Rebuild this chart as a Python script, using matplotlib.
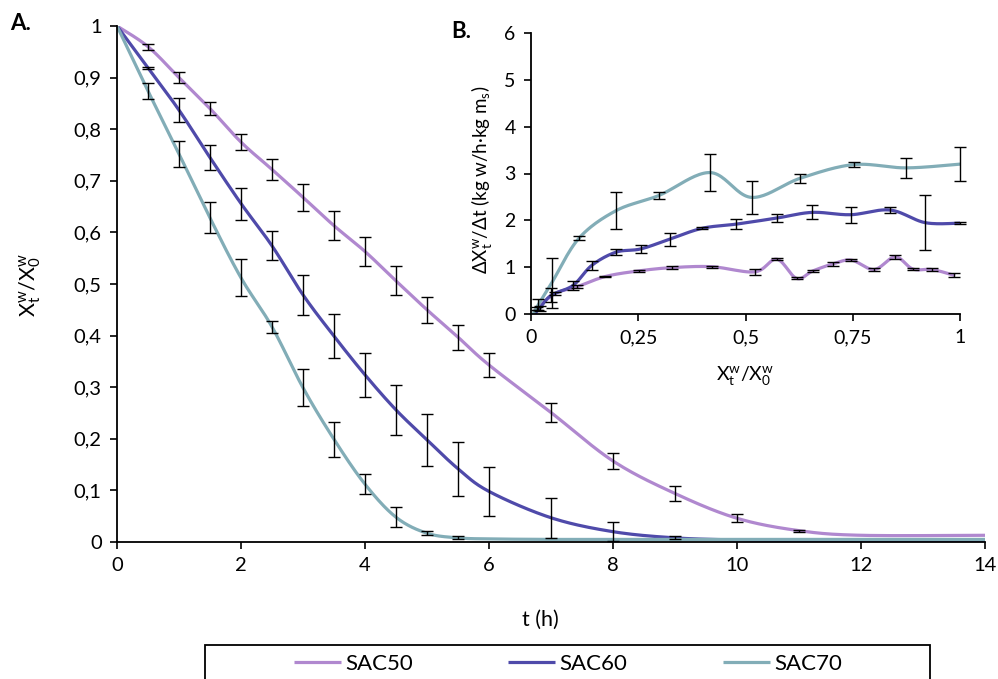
import numpy as np
import matplotlib
matplotlib.use("Agg")
import matplotlib.pyplot as plt
from matplotlib.patches import Rectangle

plt.rcParams['font.family'] = ['Lato', 'DejaVu Sans']
plt.rcParams['mathtext.default'] = 'regular'

# ---- main chart data (A) ----
t = [0, 0.5, 1, 1.5, 2, 2.5, 3, 3.5, 4, 4.5, 5, 5.5, 6, 7, 8, 9, 10, 11, 12, 14]
sac50 = [1, 0.96, 0.90, 0.84, 0.775, 0.722, 0.668, 0.613, 0.563, 0.506, 0.450,
         0.397, 0.343, 0.251, 0.157, 0.094, 0.046, 0.022, 0.013, 0.013]
sac50_err = [0, 0.006, 0.010, 0.013, 0.015, 0.020, 0.026, 0.028, 0.029, 0.028,
             0.025, 0.024, 0.023, 0.019, 0.016, 0.014, 0.008, 0.002, 0, 0]
sac60 = [1, 0.919, 0.837, 0.745, 0.656, 0.574, 0.479, 0.399, 0.324, 0.256, 0.198,
         0.142, 0.098, 0.047, 0.020, 0.008, 0.004, 0.003, 0.003, 0.003]
sac60_err = [0, 0.002, 0.023, 0.025, 0.031, 0.028, 0.039, 0.043, 0.043, 0.048,
             0.050, 0.052, 0.048, 0.039, 0.019, 0.003, 0, 0, 0, 0]
sac70 = [1, 0.874, 0.752, 0.628, 0.512, 0.417, 0.299, 0.199, 0.112, 0.048, 0.017,
         0.008, 0.006, 0.005, 0.005, 0.005, 0.005, 0.005, 0.005, 0.005]
sac70_err = [0, 0.015, 0.026, 0.030, 0.036, 0.012, 0.036, 0.034, 0.019, 0.019,
             0.004, 0.003, 0, 0, 0, 0, 0, 0, 0, 0]

# ---- inset data (B): drying rate vs moisture ratio ----
b50_x = [0.008, 0.014, 0.057, 0.107, 0.173, 0.251, 0.328, 0.421, 0.522, 0.573,
         0.619, 0.657, 0.704, 0.747, 0.80, 0.849, 0.89, 0.935, 0.985]
b50_y = [0.0, 0.12, 0.44, 0.58, 0.80, 0.92, 0.99, 1.01, 0.90, 1.17,
         0.76, 0.92, 1.07, 1.15, 0.95, 1.22, 0.96, 0.95, 0.83]
b50_err = [0, 0.03, 0.03, 0.03, 0.02, 0.02, 0.03, 0.02, 0.07, 0.02,
           0.02, 0.03, 0.04, 0.02, 0.03, 0.05, 0.02, 0.03, 0.05]
b60_x = [0.008, 0.020, 0.047, 0.098, 0.142, 0.198, 0.256, 0.324, 0.399, 0.479,
         0.574, 0.656, 0.745, 0.837, 0.919, 1.0]
b60_y = [0.0, 0.12, 0.40, 0.61, 1.04, 1.32, 1.39, 1.60, 1.83, 1.92,
         2.05, 2.17, 2.12, 2.22, 1.95, 1.94]
b60_err = [0, 0.05, 0.15, 0.10, 0.10, 0.07, 0.08, 0.14, 0.02, 0.11,
           0.09, 0.15, 0.17, 0.07, 0.59, 0.02]
b70_x = [0.005, 0.017, 0.048, 0.112, 0.199, 0.298, 0.417, 0.514, 0.628, 0.752,
         0.874, 1.0]
b70_y = [0.0, 0.20, 0.66, 1.62, 2.21, 2.53, 3.02, 2.49, 2.90, 3.19, 3.12, 3.20]
b70_err = [0, 0.12, 0.53, 0.04, 0.39, 0.08, 0.39, 0.36, 0.10, 0.06, 0.21, 0.37]

labels = ['SAC50', 'SAC60', 'SAC70']
colors = ['#b088cf', '#4f4aaa', '#82adb7']

x_ticks_b = [0, 0.25, 0.5, 0.75, 1]
x_ticklabels_b = ['0', '0,25', '0,5', '0,75', '1']


def smooth(x, y, n=24):
    # Excel-style smoothed line: cubic Bezier through the points
    P = np.column_stack([x, y]).astype(float)
    P = np.vstack([P[0], P, P[-1]])
    s = np.linspace(0, 1, n)[:, None]
    out = []
    for i in range(1, len(P) - 2):
        p0, p1, p2, p3 = P[i - 1], P[i], P[i + 1], P[i + 2]
        c1 = p1 + (p2 - p0) / 6
        c2 = p2 - (p3 - p1) / 6
        seg = (1 - s) ** 3 * p1 + 3 * (1 - s) ** 2 * s * c1 + 3 * (1 - s) * s ** 2 * c2 + s ** 3 * p2
        out.append(seg if i == 1 else seg[1:])
    out = np.vstack(out)
    return out[:, 0], out[:, 1]


def errbars(a, x, y, e, cap):
    # skip points without error so no flat caps get drawn
    x, y, e = np.asarray(x), np.asarray(y), np.asarray(e)
    m = e > 0
    a.errorbar(x[m], y[m], yerr=e[m], fmt='none', ecolor='black', elinewidth=1.0,
               capsize=cap, capthick=1.0, zorder=3, clip_on=False)


def comma(v):
    return ('%g' % v).replace('.', ',')


fig = plt.figure(figsize=(9.98, 6.79), dpi=100)

# ---- panel A ----
ax = fig.add_axes([117 / 998, 1 - 542 / 679, 868 / 998, 516 / 679])
handles = []
for yv, ev, c, lab in zip([sac50, sac60, sac70], [sac50_err, sac60_err, sac70_err], colors, labels):
    sx, sy = smooth(t, yv)
    h, = ax.plot(sx, sy, color=c, lw=2.3, label=lab, zorder=2, solid_capstyle='butt')
    handles.append(h)
    errbars(ax, t, yv, ev, 4.5)

ax.set_xlim(0, 14)
ax.set_ylim(0, 1)
ax.set_xticks(range(0, 15, 2))
yt = np.round(np.arange(0, 1.01, 0.1), 1)
ax.set_yticks(yt)
ax.set_yticklabels([comma(v) for v in yt])
for sp in ['top', 'right']:
    ax.spines[sp].set_visible(False)
for sp in ['left', 'bottom']:
    ax.spines[sp].set_linewidth(1.3)
ax.tick_params(direction='out', length=5, width=1.2, labelsize=14.5, pad=6)
ax.set_facecolor('none')

fig.text(540 / 998, 1 - 620 / 679, 't (h)', ha='center', va='center', fontsize=15.5)
fig.text(30 / 998, 1 - 285 / 679, r'X$^w_t$/X$^w_0$', rotation=90,
         ha='center', va='center', fontsize=15.5)
fig.text(10 / 998, 1 - 24 / 679, 'A.', fontsize=16, fontweight='bold', va='center')
fig.text(451 / 998, 1 - 32 / 679, 'B.', fontsize=16, fontweight='bold', va='center')

# ---- panel B (inset) ----
axb = fig.add_axes([531 / 998, 1 - 314 / 679, 429 / 998, 281 / 679])
for xv, yv, ev, c in zip([b50_x, b60_x, b70_x], [b50_y, b60_y, b70_y],
                         [b50_err, b60_err, b70_err], colors):
    sx, sy = smooth(xv, yv)
    axb.plot(sx, sy, color=c, lw=2.3, zorder=2)
    errbars(axb, xv, yv, ev, 4)
axb.set_xlim(0, 1)
axb.set_ylim(0, 6)
axb.set_xticks(x_ticks_b)
axb.set_xticklabels(x_ticklabels_b)
axb.set_yticks(range(0, 7))
for sp in ['top', 'right']:
    axb.spines[sp].set_visible(False)
for sp in ['left', 'bottom']:
    axb.spines[sp].set_linewidth(1.3)
axb.tick_params(direction='out', length=5, width=1.2, labelsize=14, pad=6)
axb.set_facecolor('none')

fig.text(481 / 998, 1 - 180 / 679, r'ΔX$^w_t$/Δt (kg w/h·kg m$_s$)', rotation=90,
         ha='center', va='center', fontsize=13.5)
fig.text(745 / 998, 1 - 376 / 679, r'X$^w_t$/X$^w_0$', ha='center', va='center', fontsize=14)

# ---- legend box (cut by the bottom edge like the original) ----
fig.patches.append(Rectangle((205 / 998, -0.05), 725 / 998, (679 - 645) / 679 + 0.05,
                             transform=fig.transFigure, fill=False, ec='black', lw=1.3))
fig.legend(handles=handles, labels=labels, loc='center', ncol=3, frameon=False,
           bbox_to_anchor=(568 / 998, 1 - 664 / 679), fontsize=16,
           handlelength=2.1, handletextpad=0.2, columnspacing=4.3)

fig.savefig('out.png', dpi=100)
